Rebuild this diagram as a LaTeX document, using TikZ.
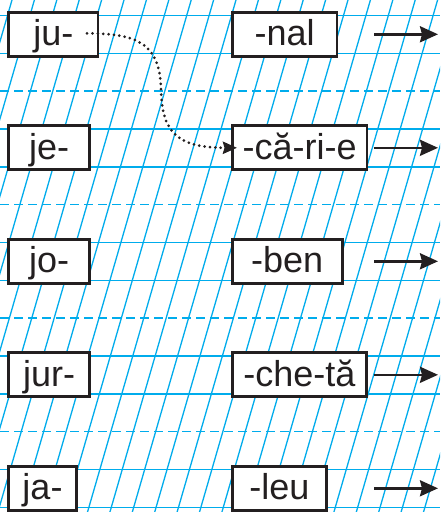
\documentclass[tikz,border=0pt]{standalone}
\usepackage{fontspec}
\setmainfont{Liberation Sans}
\usetikzlibrary{arrows.meta}
\definecolor{gridblue}{RGB}{0,172,236}
\definecolor{ink}{RGB}{35,31,32}
\begin{document}
\begin{tikzpicture}[x=1pt,y=-1pt,
  box/.style={draw=ink, line width=2.7pt, fill=white, inner sep=0pt, minimum height=44pt,
    text height=25pt, text depth=2pt, font=\fontsize{36}{40}\selectfont, text=ink},
  hline/.style={gridblue, line width=1.4pt},
  dline/.style={gridblue, line width=1.4pt, dash pattern=on 9pt off 5pt},
  sline/.style={gridblue, line width=1.3pt},
  arr/.style={ink, line width=2.6pt, -{Stealth[length=18pt,width=16pt,inset=2pt]}},
  link/.style={ink, line width=3pt, line cap=round, dash pattern=on 0pt off 5.4pt,
    -{Stealth[length=14pt,width=12pt,inset=1.5pt]}}]
\fill[white] (0,0) rectangle (440,512);
\useasboundingbox (0,0) rectangle (440,512);
\begin{scope}
  \clip (0,0) rectangle (440,512);
  \foreach \k in {-1,...,28}
    \draw[sline] ({12+22.4*\k+0.29*5},-5) -- ({12+22.4*\k-0.29*517},517);
  \foreach \c in {34.3,147.8,261.3,374.8,488.3} {
    \draw[hline] (0,\c-19) -- (440,\c-19);
    \draw[hline] (0,\c+19) -- (440,\c+19);
    \draw[dline] (0,\c+56.75) -- (440,\c+56.75);
  }
\end{scope}
% left syllables
\node[box, minimum width=89.3pt] (ju)  at (53.3,34.3)  {ju-};
\node[box, minimum width=81pt]   (je)  at (49.2,147.8) {je-};
\node[box, minimum width=81pt]   (jo)  at (49.2,261.3) {jo-};
\node[box, minimum width=81pt]   (jur) at (49.2,374.8) {jur-};
\node[box, minimum width=67.6pt] (ja)  at (42.5,488.3) {ja-};
% right syllables
\node[box, minimum width=104.7pt] (nal)  at (284.7,34.3)  {-nal};
\node[box, minimum width=134.7pt] (cari) at (299.7,147.8) {-că-ri-e};
\node[box, minimum width=110pt]   (ben)  at (287.2,261.3) {-ben};
\node[box, minimum width=134pt]   (cheta) at (299.3,374.8) {-che-tă};
\node[box, minimum width=94pt]    (leu)  at (279.3,488.3) {-leu};
% arrows
\foreach \c [count=\i] in {34.3,147.8,261.3,374.8,488.3} {
  \coordinate (s\i) at (374,\c);
  \coordinate (e\i) at (438,\c);
  \draw[arr] (s\i) -- (e\i);
}
% example link
\draw[link] ([xshift=-12.3pt,yshift=1pt]ju.east) .. controls (140,33.5) and (160,45) .. (161,90)
  .. controls (162,135) and (180,147.7) .. ([xshift=6pt]cari.west);
\end{tikzpicture}
\end{document}
